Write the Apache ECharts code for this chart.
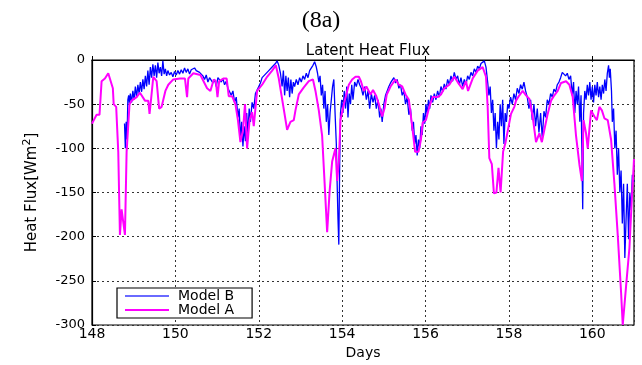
<!DOCTYPE html>
<html>
<head>
<meta charset="utf-8">
<script src="https://cdn.jsdelivr.net/npm/echarts@6/dist/echarts.min.js"></script>
<style>
  html, body { margin: 0; padding: 0; background: #fff; }
  #chart { width: 642px; height: 365px; }
</style>
</head>
<body>
<div id="chart"></div>
<script>
// x ticks (days) and y ticks (W/m2)
var dayTicks = [148, 150, 152, 154, 156, 158, 160];
var fluxTicks = [0, -50, -100, -150, -200, -250, -300];

// Model A (magenta) - [day, flux]
var modelA = [
    [148.00, -72], [148.11, -62], [148.18, -62], [148.23, -24], [148.31, -21],
    [148.39, -15], [148.43, -16], [148.50, -32], [148.52, -50], [148.58, -53],
    [148.63, -104], [148.67, -198], [148.71, -169], [148.74, -170], [148.79, -198],
    [148.83, -104], [148.90, -50], [148.95, -46], [149.07, -42], [149.15, -37],
    [149.27, -46], [149.35, -46], [149.38, -61], [149.42, -43], [149.47, -19],
    [149.55, -24], [149.61, -55], [149.67, -53], [149.76, -35], [149.83, -28],
    [149.95, -22], [150.11, -21], [150.23, -21], [150.28, -42], [150.31, -21],
    [150.43, -15], [150.60, -17], [150.64, -19], [150.76, -32], [150.84, -35],
    [150.92, -22], [150.97, -24], [151.01, -42], [151.05, -24], [151.15, -21],
    [151.23, -21], [151.28, -41], [151.36, -41], [151.44, -50], [151.50, -68],
    [151.56, -93], [151.62, -80], [151.67, -50], [151.72, -100], [151.78, -68],
    [151.84, -59], [151.88, -75], [151.96, -35], [152.08, -28], [152.20, -19],
    [152.32, -12], [152.41, -6], [152.48, -21], [152.58, -50], [152.68, -79],
    [152.76, -70], [152.84, -68], [152.88, -57], [152.96, -39], [153.08, -31],
    [153.20, -24], [153.30, -22], [153.36, -35], [153.44, -57], [153.52, -86],
    [153.58, -140], [153.64, -195], [153.70, -148], [153.76, -115], [153.84, -100],
    [153.88, -137], [153.92, -115], [153.96, -68], [154.04, -50], [154.16, -28],
    [154.24, -22], [154.32, -19], [154.40, -19], [154.45, -24], [154.52, -35],
    [154.58, -30], [154.68, -39], [154.74, -34], [154.82, -41], [154.88, -50],
    [154.96, -64], [155.02, -54], [155.07, -39], [155.16, -30], [155.28, -22],
    [155.36, -28], [155.44, -30], [155.52, -39], [155.60, -45], [155.69, -79],
    [155.75, -104], [155.83, -104], [155.89, -90], [155.93, -71], [156.01, -68],
    [156.09, -53], [156.17, -42], [156.29, -42], [156.37, -39], [156.45, -32],
    [156.57, -28], [156.69, -19], [156.77, -25], [156.89, -33], [156.97, -24],
    [157.02, -35], [157.13, -21], [157.25, -12], [157.37, -8], [157.45, -19],
    [157.49, -53], [157.53, -111], [157.59, -118], [157.64, -151], [157.70, -150],
    [157.75, -122], [157.80, -150], [157.86, -104], [157.92, -93], [158.05, -61],
    [158.13, -53], [158.17, -46], [158.25, -40], [158.33, -35], [158.41, -40],
    [158.49, -44], [158.57, -64], [158.65, -93], [158.73, -83], [158.79, -93],
    [158.85, -79], [158.93, -61], [159.01, -46], [159.09, -40], [159.17, -35],
    [159.25, -26], [159.37, -24], [159.45, -28], [159.53, -42], [159.61, -86],
    [159.69, -118], [159.75, -137], [159.79, -68], [159.85, -83], [159.89, -100],
    [159.97, -57], [160.05, -64], [160.11, -68], [160.17, -53], [160.23, -57],
    [160.29, -66], [160.37, -68], [160.45, -90], [160.53, -140], [160.61, -198],
    [160.69, -263], [160.73, -300], [160.81, -256], [160.89, -213], [160.95, -155],
    [160.97, -140], [161.00, -112]
];

// Model B (blue) - [day, flux]
var modelB = [
    [148.78, -72], [148.80, -100], [148.82, -70], [148.84, -90], [148.86, -45],
    [148.88, -40], [148.90, -50], [148.92, -38], [148.95, -48], [148.98, -35],
    [149.01, -45], [149.04, -30], [149.07, -42], [149.10, -28], [149.13, -38],
    [149.16, -25], [149.19, -36], [149.22, -22], [149.25, -33], [149.28, -18],
    [149.31, -30], [149.34, -12], [149.37, -28], [149.40, -8], [149.43, -20],
    [149.46, -5], [149.49, -18], [149.52, -6], [149.55, -20], [149.58, -3],
    [149.61, -15], [149.64, -8], [149.67, -18], [149.70, -1], [149.73, -16],
    [149.76, -10], [149.79, -18], [149.82, -12], [149.86, -17], [149.90, -14],
    [149.94, -19], [149.98, -13], [150.02, -17], [150.06, -12], [150.10, -16],
    [150.14, -11], [150.18, -15], [150.22, -9], [150.26, -14], [150.30, -10],
    [150.34, -16], [150.38, -11], [150.42, -13], [150.46, -9], [150.50, -12],
    [150.54, -10], [150.58, -14], [150.62, -13], [150.66, -18], [150.70, -22],
    [150.74, -17], [150.78, -25], [150.82, -20], [150.86, -18], [150.90, -26],
    [150.94, -22], [150.98, -30], [151.02, -20], [151.06, -19], [151.10, -25],
    [151.14, -21], [151.18, -28], [151.22, -24], [151.26, -32], [151.30, -30],
    [151.34, -40], [151.38, -35], [151.42, -48], [151.46, -42], [151.50, -65],
    [151.53, -55], [151.56, -90], [151.59, -70], [151.62, -98], [151.65, -75],
    [151.68, -92], [151.71, -60], [151.74, -85], [151.77, -55], [151.80, -70],
    [151.84, -48], [151.88, -55], [151.92, -38], [151.96, -40], [152.00, -30],
    [152.04, -26], [152.08, -20], [152.12, -22], [152.16, -16], [152.20, -18],
    [152.24, -12], [152.28, -14], [152.32, -8], [152.36, -10], [152.40, -4],
    [152.44, -1], [152.48, -6], [152.52, -15], [152.56, -30], [152.59, -12],
    [152.62, -40], [152.65, -18], [152.68, -35], [152.71, -20], [152.74, -42],
    [152.77, -22], [152.80, -38], [152.83, -25], [152.86, -30], [152.90, -22],
    [152.94, -28], [152.98, -20], [153.02, -25], [153.06, -18], [153.10, -22],
    [153.14, -15], [153.18, -20], [153.22, -12], [153.26, -10], [153.30, -6],
    [153.34, -2], [153.38, -8], [153.41, -15], [153.44, -25], [153.47, -18],
    [153.50, -40], [153.53, -28], [153.56, -55], [153.59, -35], [153.62, -70],
    [153.65, -50], [153.68, -85], [153.71, -60], [153.74, -45], [153.77, -30],
    [153.80, -22], [153.83, -60], [153.86, -95], [153.88, -140], [153.90, -180],
    [153.92, -209], [153.94, -120], [153.96, -60], [153.99, -45], [154.02, -60],
    [154.05, -35], [154.08, -55], [154.11, -30], [154.14, -65], [154.17, -38],
    [154.20, -50], [154.23, -28], [154.26, -45], [154.30, -25], [154.34, -30],
    [154.38, -22], [154.42, -28], [154.46, -32], [154.50, -40], [154.54, -30],
    [154.58, -45], [154.62, -35], [154.66, -55], [154.70, -38], [154.74, -48],
    [154.78, -40], [154.82, -55], [154.86, -45], [154.90, -65], [154.93, -55],
    [154.96, -70], [155.00, -50], [155.04, -40], [155.08, -35], [155.12, -30],
    [155.16, -26], [155.20, -24], [155.24, -20], [155.28, -26], [155.32, -22],
    [155.36, -32], [155.40, -28], [155.44, -40], [155.48, -35], [155.52, -50],
    [155.56, -42], [155.60, -62], [155.64, -55], [155.68, -80], [155.71, -70],
    [155.74, -95], [155.77, -85], [155.80, -108], [155.83, -90], [155.86, -100],
    [155.89, -75], [155.92, -85], [155.95, -60], [155.98, -72], [156.01, -50],
    [156.04, -62], [156.07, -45], [156.10, -55], [156.13, -40], [156.17, -48],
    [156.21, -38], [156.25, -45], [156.29, -35], [156.33, -42], [156.37, -30],
    [156.41, -36], [156.45, -27], [156.49, -33], [156.53, -22], [156.57, -28],
    [156.61, -18], [156.65, -24], [156.69, -14], [156.73, -22], [156.77, -18],
    [156.81, -28], [156.85, -20], [156.89, -30], [156.93, -22], [156.97, -28],
    [157.01, -18], [157.05, -22], [157.09, -14], [157.13, -18], [157.17, -10],
    [157.21, -14], [157.25, -7], [157.29, -10], [157.33, -4], [157.37, -6],
    [157.41, -1], [157.45, -8], [157.49, -25], [157.52, -40], [157.55, -30],
    [157.58, -60], [157.61, -45], [157.64, -80], [157.67, -60], [157.70, -100],
    [157.73, -70], [157.76, -90], [157.79, -50], [157.82, -75], [157.85, -45],
    [157.88, -95], [157.91, -60], [157.94, -70], [157.97, -50], [158.00, -55],
    [158.04, -42], [158.08, -50], [158.12, -38], [158.16, -45], [158.20, -32],
    [158.24, -38], [158.28, -28], [158.32, -33], [158.36, -25], [158.40, -35],
    [158.44, -42], [158.48, -55], [158.52, -45], [158.56, -68], [158.60, -50],
    [158.64, -75], [158.68, -55], [158.72, -82], [158.76, -60], [158.80, -88],
    [158.84, -58], [158.88, -65], [158.92, -45], [158.96, -50], [159.00, -38],
    [159.04, -42], [159.08, -33], [159.12, -36], [159.16, -28], [159.20, -25],
    [159.24, -20], [159.28, -14], [159.32, -16], [159.36, -18], [159.40, -15],
    [159.44, -22], [159.48, -18], [159.52, -40], [159.55, -25], [159.58, -60],
    [159.61, -35], [159.64, -50], [159.67, -30], [159.70, -70], [159.73, -40],
    [159.77, -169], [159.79, -60], [159.82, -35], [159.85, -45], [159.88, -28],
    [159.91, -40], [159.94, -25], [159.97, -45], [160.00, -30], [160.03, -48],
    [160.06, -28], [160.09, -40], [160.12, -25], [160.15, -42], [160.18, -30],
    [160.21, -45], [160.24, -28], [160.27, -38], [160.30, -22], [160.33, -35],
    [160.36, -15], [160.39, -6], [160.41, -20], [160.43, -10], [160.46, -35],
    [160.48, -70], [160.51, -55], [160.54, -100], [160.57, -80], [160.60, -130],
    [160.63, -100], [160.66, -150], [160.69, -125], [160.72, -185], [160.75, -140],
    [160.78, -224], [160.81, -180], [160.84, -140], [160.87, -203], [160.90, -150],
    [160.93, -170], [160.96, -130], [161.00, -138]
];

var chart = echarts.init(document.getElementById('chart'));

var gridLine = { show: true, lineStyle: { color: '#333', type: [2, 3], width: 1 } };
var font = 'DejaVu Sans';

chart.setOption({
    animation: false,
    backgroundColor: '#fff',
    title: [{
        text: '(8a)',
        left: 'center',
        top: 4,
        textStyle: { fontFamily: 'Liberation Serif', fontSize: 24, fontWeight: 'normal', color: '#000' }
    }, {
        text: 'Latent Heat Flux',
        left: 363,
        top: 39,
        textAlign: 'center',
        textStyle: { fontFamily: font, fontSize: 15, fontWeight: 'normal', color: '#000' }
    }],
    grid: {
        left: 92, right: 8, top: 60, bottom: 30,
        show: true, borderColor: '#000', borderWidth: 1.2, backgroundColor: '#fff'
    },
    legend: {
        data: [
            { name: 'Model B', icon: 'rect', itemStyle: { color: '#6a6aff' } },
            { name: 'Model A', icon: 'rect', itemStyle: { color: '#ff00ff' } }
        ],
        orient: 'vertical',
        left: 117, top: 288,
        backgroundColor: '#fff',
        borderColor: '#000', borderWidth: 1.2,
        borderRadius: 0,
        padding: [1, 18, 1, 8],
        itemGap: 0,
        itemWidth: 44, itemHeight: 2,
        textStyle: { fontFamily: font, fontSize: 14, lineHeight: 14, color: '#000', padding: [0, 0, 0, 4] }
    },
    xAxis: {
        type: 'value',
        min: 148, max: 161, interval: 2,
        name: 'Days',
        nameLocation: 'middle',
        nameGap: 21,
        nameTextStyle: { fontFamily: font, fontSize: 14, color: '#000' },
        axisLine: { show: true, lineStyle: { color: '#000', width: 1.2 } },
        axisTick: { show: true, inside: true, length: 4, lineStyle: { color: '#000' } },
        axisLabel: {
            color: '#000', fontFamily: font, fontSize: 14, margin: 2,
            showMaxLabel: false,
            formatter: function (v) { return dayTicks.indexOf(v) >= 0 ? String(v) : ''; }
        },
        splitLine: gridLine
    },
    yAxis: {
        type: 'value',
        min: -300, max: 0, interval: 50,
        name: 'Heat Flux[Wm{sup|2}]',
        nameLocation: 'middle',
        nameRotate: 90,
        nameGap: 50,
        nameTextStyle: {
            color: '#000', fontFamily: font, fontSize: 15,
            rich: { sup: { fontFamily: font, fontSize: 11, color: '#000', padding: [0, 0, 9, 0] } }
        },
        axisLine: { show: true, lineStyle: { color: '#000', width: 1.2 } },
        axisTick: { show: true, inside: true, length: 4, lineStyle: { color: '#000' } },
        axisLabel: {
            color: '#000', fontFamily: font, fontSize: 13, margin: 7,
            formatter: function (v) { return fluxTicks.indexOf(v) >= 0 ? String(v) : ''; }
        },
        splitLine: gridLine
    },
    series: [{
        name: 'Model B',
        type: 'line',
        data: modelB,
        symbol: 'none',
        clip: true,
        lineStyle: { color: '#0000ff', width: 1.3 },
        itemStyle: { color: '#6a6aff' },
        z: 2
    }, {
        name: 'Model A',
        type: 'line',
        data: modelA,
        symbol: 'none',
        clip: true,
        lineStyle: { color: '#ff00ff', width: 2 },
        itemStyle: { color: '#ff00ff' },
        z: 3
    }]
});
</script>
</body>
</html>
